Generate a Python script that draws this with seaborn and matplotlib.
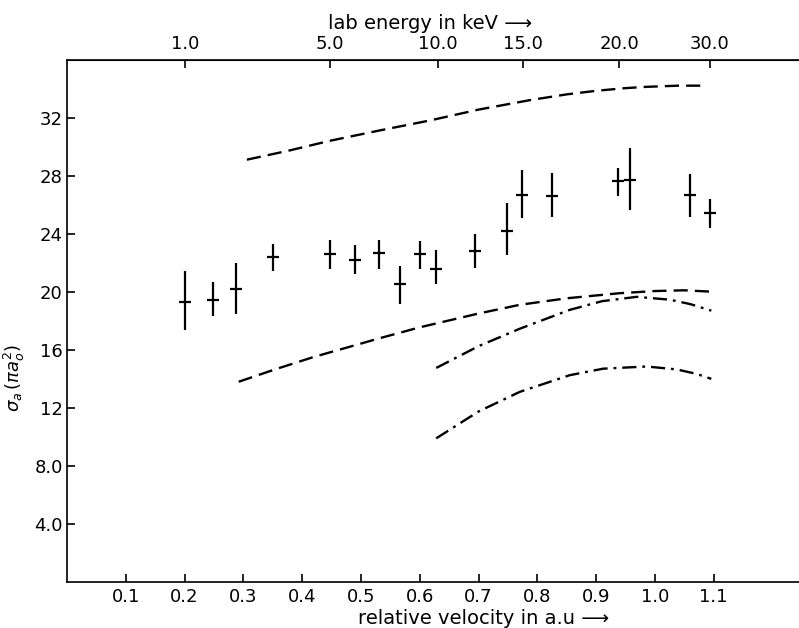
import matplotlib
matplotlib.use("Agg")
import matplotlib.pyplot as plt
import seaborn as sns
import pandas as pd

# measured cross sections (relative velocity in a.u.)
vel = [0.200, 0.248, 0.287, 0.351, 0.448, 0.490, 0.531, 0.566, 0.600,
       0.628, 0.694, 0.749, 0.774, 0.825, 0.938, 0.958, 1.059, 1.093]
sigma = [19.26, 19.45, 20.2, 22.4, 22.6, 22.2, 22.7, 20.5, 22.6,
         21.6, 22.8, 24.2, 26.7, 26.6, 27.6, 27.7, 26.7, 25.4]
sigma_hi = [21.4, 20.7, 21.98, 23.3, 23.6, 23.2, 23.6, 21.8, 23.5,
            22.9, 24.0, 26.1, 28.4, 28.2, 28.5, 29.9, 28.1, 26.4]
sigma_lo = [17.38, 18.3, 18.5, 21.4, 21.6, 21.2, 21.6, 19.15, 21.6,
            20.5, 21.65, 22.5, 25.1, 25.15, 26.6, 25.6, 25.15, 24.4]

# theory curves
up_dash_v = [0.306, 0.38, 0.447, 0.53, 0.617, 0.70, 0.787, 0.85, 0.901, 0.95, 0.986, 1.04, 1.088]
up_dash_s = [29.1, 29.75, 30.4, 31.1, 31.8, 32.55, 33.2, 33.6, 33.85, 34.03, 34.12, 34.2, 34.2]

mid_dash_v = [0.292, 0.35, 0.419, 0.48, 0.532, 0.600, 0.70, 0.77, 0.85, 0.940, 1.0, 1.05, 1.099]
mid_dash_s = [13.8, 14.6, 15.5, 16.2, 16.8, 17.55, 18.5, 19.1, 19.55, 19.9, 20.05, 20.1, 20.0]

up_dd_v = [0.628, 0.70, 0.770, 0.855, 0.91, 0.969, 1.026, 1.06, 1.096]
up_dd_s = [14.75, 16.25, 17.45, 18.75, 19.35, 19.65, 19.45, 19.15, 18.7]

lo_dd_v = [0.628, 0.70, 0.770, 0.855, 0.912, 0.986, 1.037, 1.07, 1.096]
lo_dd_s = [9.9, 11.75, 13.1, 14.25, 14.7, 14.85, 14.65, 14.35, 14.0]

x_ticks = [0.1, 0.2, 0.3, 0.4, 0.5, 0.6, 0.7, 0.8, 0.9, 1.0, 1.1]
x_labels = ["0.1", "0.2", "0.3", "0.4", "0.5", "0.6", "0.7", "0.8", "0.9", "1.0", "1.1"]
y_ticks = [4, 8, 12, 16, 20, 24, 28, 32]
y_labels = ["4.0", "8.0", "12", "16", "20", "24", "28", "32"]
top_ticks = [0.2007, 0.447, 0.6315, 0.776, 0.939, 1.0935]
top_labels = ["1.0", "5.0", "10.0", "15.0", "20.0", "30.0"]

sns.set_style("ticks")
plt.rcParams['font.family'] = ['DejaVu Sans']
plt.rcParams.update({"text.color": "black", "axes.labelcolor": "black",
                     "xtick.color": "black", "ytick.color": "black",
                     "axes.edgecolor": "black"})

fig = plt.figure(figsize=(7.99, 6.28), dpi=100)
ax = fig.add_axes([0.0839, 0.0732, 0.916, 0.832])

curves = [(up_dash_v, up_dash_s, (6, 3)),
          (mid_dash_v, mid_dash_s, (6, 3)),
          (up_dd_v, up_dd_s, (6, 2.5, 1.2, 2.5)),
          (lo_dd_v, lo_dd_s, (6, 2.5, 1.2, 2.5))]
for cv, cs, dash in curves:
    d = pd.DataFrame({"v": cv, "s": cs})
    sns.lineplot(data=d, x="v", y="s", ax=ax, color="black", lw=1.7,
                 sort=False, estimator=None, dashes=False)
    ax.lines[-1].set_dashes(dash)

lo_err = [s - l for s, l in zip(sigma, sigma_lo)]
hi_err = [h - s for s, h in zip(sigma, sigma_hi)]
ax.errorbar(vel, sigma, yerr=[lo_err, hi_err], fmt="none", ecolor="black",
            elinewidth=1.6, capsize=0)
pts = pd.DataFrame({"v": vel, "s": sigma})
sns.scatterplot(data=pts, x="v", y="s", ax=ax, marker="_", s=70,
                color="black", linewidth=1.6)

ax.set_xlim(0, 1.245)
ax.set_ylim(0, 36)
ax.set_xticks(x_ticks)
ax.set_xticklabels(x_labels)
ax.set_yticks(y_ticks)
ax.set_yticklabels(y_labels)
ax.tick_params(direction="in", length=6, width=1.2, labelsize=13, pad=4)
ax.tick_params(axis="y", pad=3)
for side in ["left", "bottom", "top"]:
    ax.spines[side].set_linewidth(1.2)
ax.spines["right"].set_visible(False)

top = ax.secondary_xaxis("top")
top.set_xticks(top_ticks)
top.set_xticklabels(top_labels)
top.tick_params(direction="in", length=6, width=1.2, labelsize=13, pad=5)

ax.set_xlabel("")
ax.set_ylabel(r"$\sigma_a\,(\pi a_o^2)$", fontsize=13)
ax.yaxis.set_label_coords(-0.055, 0.39)

fig.text(0.41, 0.963, "lab energy in keV \u27F6", fontsize=14, ha="left", va="center")
fig.text(0.448, 0.006, "relative velocity in a.u \u27F6", fontsize=14,
         ha="left", va="baseline")

fig.savefig("out.png", dpi=100)
